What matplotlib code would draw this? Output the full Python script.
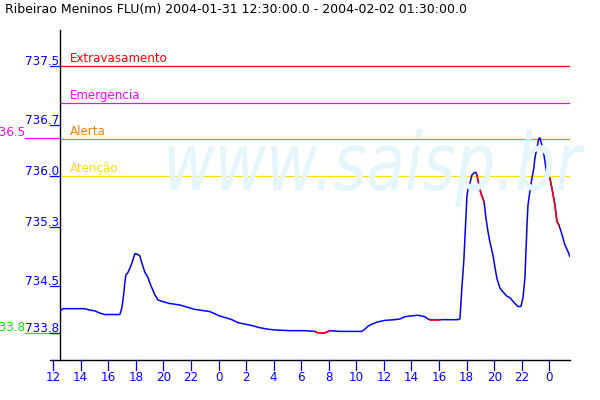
import numpy as np
import matplotlib
matplotlib.use("Agg")
import matplotlib.pyplot as plt
from matplotlib import transforms
from matplotlib.textpath import TextPath
from matplotlib.patches import PathPatch
from matplotlib.font_manager import FontProperties

# ─── DATA ─────────────────────────────────────────────────────────────────────
TITLE = "Ribeirao Meninos FLU(m) 2004-01-31 12:30:00.0 - 2004-02-02 01:30:00.0"

# hours after 2004-01-31 12:00
HOURS = [0.5, 0.7, 1.2, 2.3, 2.66, 3.03, 3.39, 3.75, 4.11, 4.84,
         4.99, 5.13, 5.2, 5.28, 5.42, 5.57, 5.71, 5.78, 5.93, 6.15,
         6.29, 6.44, 6.65, 6.87, 7.02, 7.24, 7.38, 7.6, 7.89, 8.47,
         9.19, 9.56, 9.92, 10.28, 10.65, 11.37, 11.73, 12.1, 12.46, 12.97,
         13.4, 13.91, 14.42, 15.0, 15.58, 16.09, 17.18, 18.26, 18.99, 19.21,
         19.72, 20.08, 20.81, 21.89, 22.4, 22.62, 22.84, 23.13, 23.56, 24.07,
         24.79, 25.16, 25.52, 25.88, 26.47, 26.75, 26.97, 27.19, 27.34, 27.84,
         28.06, 29.37, 29.51, 29.59, 29.66, 29.8, 29.88, 29.95, 30.02, 30.09,
         30.24, 30.38, 30.53, 30.67, 30.75, 30.89, 31.04, 31.26, 31.4, 31.55,
         31.69, 31.91, 32.05, 32.2, 32.42, 32.63, 32.92, 33.14, 33.51, 33.72,
         33.94, 34.09, 34.23, 34.38, 34.45, 34.59, 34.74, 34.88, 34.95, 35.1,
         35.24, 35.32, 35.46, 35.61, 35.83, 36.04, 36.19, 36.41, 36.55, 36.7,
         36.92, 37.13, 37.35, 37.5]

LEVEL = [734.15, 734.19, 734.19, 734.19, 734.17, 734.16, 734.13, 734.11, 734.11, 734.11,
         734.20, 734.40, 734.54, 734.65, 734.68, 734.74, 734.81, 734.85, 734.94, 734.93,
         734.91, 734.81, 734.69, 734.62, 734.54, 734.44, 734.38, 734.31, 734.29, 734.26,
         734.24, 734.22, 734.20, 734.18, 734.17, 734.15, 734.12, 734.09, 734.07, 734.04,
         734.00, 733.98, 733.96, 733.93, 733.91, 733.90, 733.89, 733.89, 733.88, 733.86,
         733.86, 733.89, 733.88, 733.88, 733.88, 733.91, 733.95, 733.98, 734.01, 734.03,
         734.04, 734.05, 734.08, 734.09, 734.10, 734.09, 734.08, 734.05, 734.04, 734.04,
         734.04, 734.04, 734.05, 734.27, 734.49, 734.85, 735.17, 735.44, 735.72, 735.81,
         735.90, 736.01, 736.04, 736.05, 736.01, 735.88, 735.76, 735.65, 735.43, 735.24,
         735.10, 734.92, 734.76, 734.60, 734.47, 734.42, 734.36, 734.34, 734.26, 734.22,
         734.22, 734.34, 734.61, 735.33, 735.60, 735.79, 735.97, 736.11, 736.24, 736.38,
         736.51, 736.52, 736.42, 736.29, 736.01, 735.97, 735.83, 735.60, 735.38, 735.33,
         735.20, 735.06, 734.97, 734.90]

# stretches drawn in red
RED_FROM = [18.99, 27.34, 30.75, 36.04]
RED_TO = [20.08, 28.06, 31.26, 36.70]

ALERT_NAMES = ["Extravasamento", "Emergencia", "Alerta", "Atenção"]
ALERT_LEVELS = [737.5, 737.0, 736.5, 736.0]
ALERT_COLORS = ["#ff0000", "#ff00ff", "#ff8000", "#ffdd00"]

XTICKS = list(range(0, 37, 2))
XTICK_LABELS = ["12", "14", "16", "18", "20", "22", "0", "2", "4", "6",
                "8", "10", "12", "14", "16", "18", "20", "22", "0"]
YTICKS = [min(LEVEL), 734.5, 735.3, 736.0, 736.7, 737.5]
# ──────────────────────────────────────────────────────────────────────────────

BLUE = "#0000ff"
FONT = "DejaVu Sans"
FS = 8.6


def trunc1(v):
    return f"{np.floor(v * 10 + 1e-6) / 10:.1f}"


fig = plt.figure(figsize=(6, 4), dpi=100)
fig.patch.set_facecolor("white")

# axes box: x 60..570 px, y 30..360 px (from top)
ax = fig.add_axes([60 / 600, 40 / 400, 510 / 600, 330 / 400])
ax.set_xlim(0.5, 37.5)
ax.set_ylim(733.49, 737.99)
ax.axis("off")

# watermark
tp = TextPath((0, 0), "www.saisp.br", size=1,
              prop=FontProperties(family=FONT, style="italic"))
wm = PathPatch(tp, facecolor="#e4f5fc", edgecolor="none",
               transform=transforms.Affine2D().scale(63, 80).translate(163, 210),
               zorder=0)
fig.patches.append(wm)

h = np.array(HOURS)
v = np.array(LEVEL)

bl_x = transforms.blended_transform_factory(ax.transData, ax.transAxes)
bl_y = transforms.blended_transform_factory(ax.transAxes, ax.transData)

# alert lines and names
for name, lev, col in zip(ALERT_NAMES, ALERT_LEVELS, ALERT_COLORS):
    ax.axhline(lev, color=col, linewidth=0.9, zorder=2)
    ax.text(10 / 510, lev, name, color=col, fontsize=FS, family=FONT,
            ha="left", va="baseline",
            transform=transforms.offset_copy(bl_y, fig, y=4, units="dots"))

# max / min markers at left (partly outside the picture, as in the original)
for val, col in [(v.max(), "#ff00ff"), (v.min(), "#00ee00")]:
    ax.plot([-35 / 510, 0], [val, val], color=col, linewidth=0.9,
            transform=bl_y, clip_on=False)
    ax.text(-35 / 510, val, trunc1(val), color=col, fontsize=FS, family=FONT,
            ha="right", va="baseline",
            transform=transforms.offset_copy(bl_y, fig, y=2, units="dots"))

# axis lines
ax.plot([0, 0], [0, 1], color="black", linewidth=1.0, transform=ax.transAxes,
        clip_on=False)
ax.plot([-10 / 510, 1], [0, 0], color="black", linewidth=1.0,
        transform=ax.transAxes, clip_on=False)

# y ticks
for val in YTICKS:
    ax.plot([-10 / 510, 0], [val, val], color=BLUE, linewidth=0.9,
            transform=bl_y, clip_on=False)
    ax.text(-1 / 510, val, trunc1(val), color=BLUE, fontsize=FS, family=FONT,
            ha="right", va="baseline",
            transform=transforms.offset_copy(bl_y, fig, y=1, units="dots"))

# x ticks
for t, lab in zip(XTICKS, XTICK_LABELS):
    ax.plot([t, t], [0, -10 / 330], color=BLUE, linewidth=0.9,
            transform=bl_x, clip_on=False)
    ax.text(t, -11 / 330, lab, color=BLUE, fontsize=FS, family=FONT,
            ha="center", va="top", transform=bl_x)

# series
ax.plot(h, v, color=BLUE, linewidth=1.1, zorder=4)
for a, b in zip(RED_FROM, RED_TO):
    m = (h >= a - 1e-6) & (h <= b + 1e-6)
    ax.plot(h[m], v[m], color="#ff0000", linewidth=1.1, zorder=5)

fig.text(5 / 600, 1 - 3 / 400, TITLE, fontsize=9.0, family=FONT,
         ha="left", va="top", color="black")

fig.savefig("out.png", dpi=100)
